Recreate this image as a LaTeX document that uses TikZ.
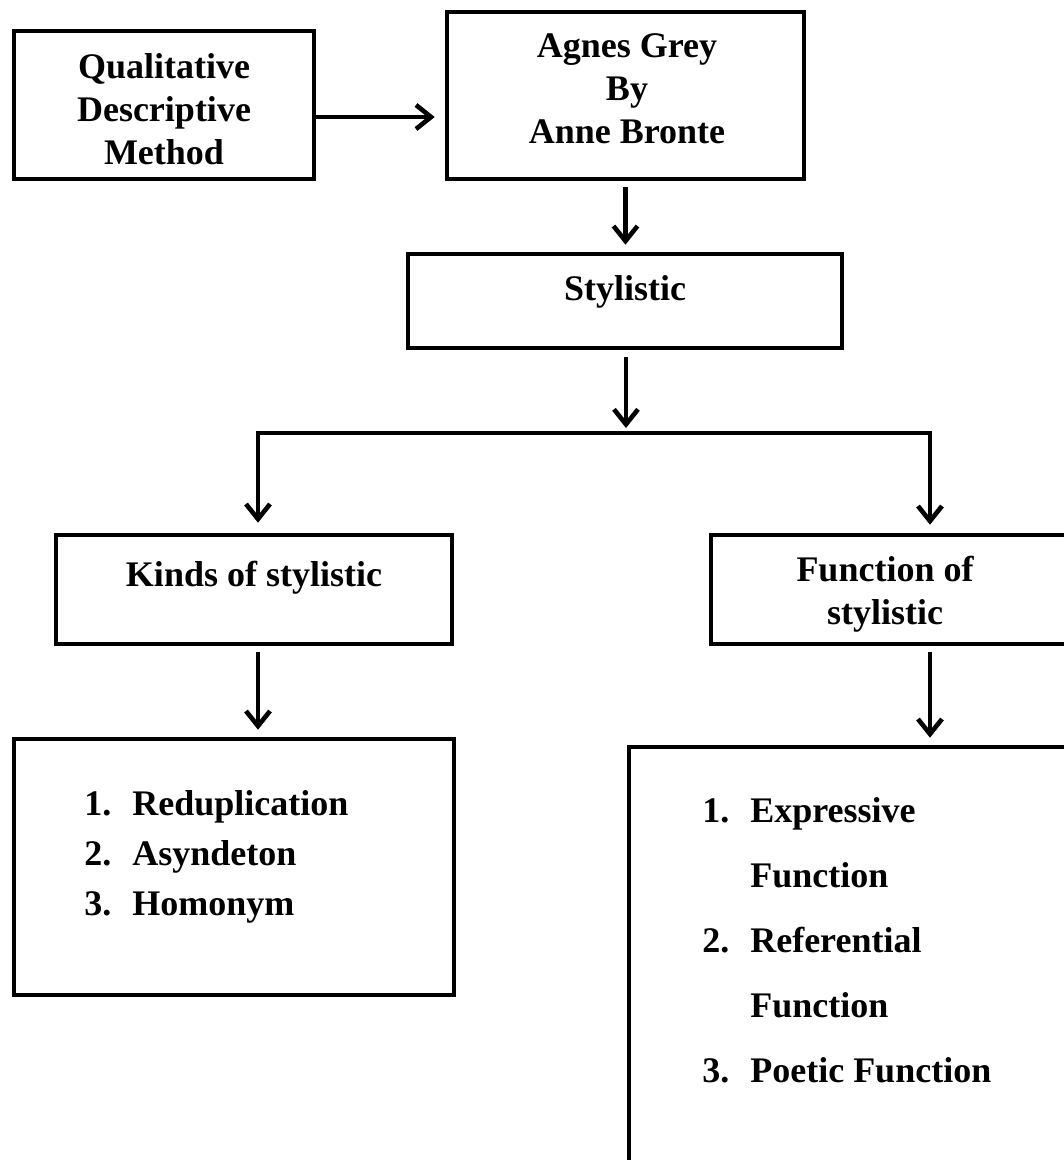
\documentclass[tikz,border=0pt]{standalone}
\usepackage{fontspec}
\setmainfont{Liberation Serif}
\usetikzlibrary{arrows.meta}
\newcommand{\itemno}[1]{\makebox[48pt][l]{#1}}
\begin{document}
\begin{tikzpicture}[x=1pt, y=-1pt, >={Straight Barb[length=15pt,width=24pt]}, line width=4.6pt]
        \tikzset{
            box/.style={draw, inner sep=0pt},
            lbl/.style={align=center, inner sep=0pt, font=\fontsize{36}{43}\selectfont\bfseries},
            lst/.style={align=left, anchor=north west, inner sep=0pt, font=\fontsize{36}{#1}\selectfont\bfseries}
        }
        \useasboundingbox (0,0) rectangle (1064,1160);
        \clip (0,0) rectangle (1064,1160);

        \node[box, minimum width=300, minimum height=148] (qdm) at (164,105) {};
        \node[box, minimum width=357, minimum height=167] (agnes) at (625.5,95.5) {};
        \node[box, minimum width=434, minimum height=94] (stylistic) at (625,301) {};
        \node[box, minimum width=396, minimum height=109] (kinds) at (254,589.5) {};
        \node[box, minimum width=389, minimum height=109] (func) at (905.5,589.5) {};
        \node[box, minimum width=440, minimum height=256] (kindlist) at (234,867) {};
        \node[box, minimum width=460, minimum height=460] (funclist) at (859,977) {};

        \node[lbl] (qdmtxt) at (164,109) {Qualitative\\Descriptive\\Method};
        \node[lbl] (agnestxt) at (627,89) {Agnes Grey\\By\\Anne Bronte};
        \node[lbl] (stytxt) at (625,292) {Stylistic};
        \node[lbl] (kindstxt) at (254,577.5) {Kinds of stylistic};
        \node[lbl] (functxt) at (885,594.5) {Function of\\stylistic};
        \node[lst=50] (kindsitems) at (82,788) {\itemno{1.}Reduplication\\ \itemno{2.}Asyndeton\\ \itemno{3.}Homonym};
        \node[lst=65] (funcitems) at (700,795) {\itemno{1.}Expressive\\ \itemno{}Function\\ \itemno{2.}Referential\\ \itemno{}Function\\ \itemno{3.}Poetic Function};

        \coordinate (split) at (626,433);
        \coordinate (lfork) at (258,433);
        \coordinate (rfork) at (930,433);

        \draw[->, shorten >=10pt] ([yshift=-12pt]qdm.east) -- ([yshift=-12pt]qdm.east -| agnes.west);
        \draw[->, shorten <=6pt, shorten >=7pt] (agnes.south) -- (agnes.south |- stylistic.north);
        \draw[->, shorten <=7pt, shorten >=5pt] (stylistic.south -| split) -- (split);
        \draw[->, shorten >=10pt] (split) -- (lfork) -- (lfork |- kinds.north);
        \draw[->, shorten >=8pt] (split) -- (rfork) -- (rfork |- func.north);
        \draw[->, shorten <=6pt, shorten >=7pt] (lfork |- kinds.south) -- (lfork |- kindlist.north);
        \draw[->, shorten <=6pt, shorten >=7pt] (rfork |- func.south) -- (rfork |- funclist.north);
\end{tikzpicture}
\end{document}
